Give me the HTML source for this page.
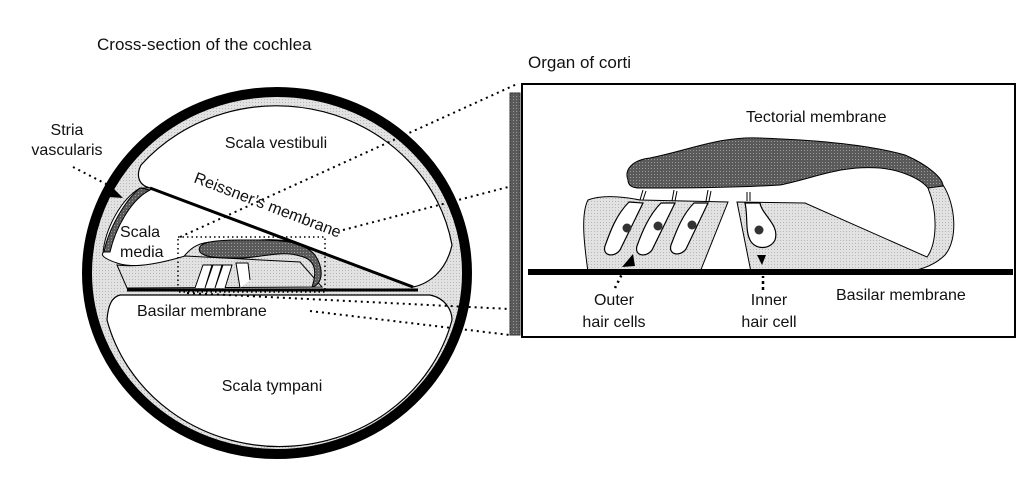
<!DOCTYPE html>
<html><head><meta charset="utf-8"><style>
html,body{margin:0;padding:0;background:#fff;}
svg{display:block;}
text{font-family:"Liberation Sans",Arial,sans-serif;fill:#111;}
</style></head><body>
<svg width="1029" height="482" viewBox="0 0 1029 482">
<defs>
<pattern id="lg" width="3" height="3" patternUnits="userSpaceOnUse"><rect width="3" height="3" fill="#e2e2e2"/><rect width="1" height="1" fill="#b8b8b8"/></pattern>
<pattern id="dg" width="3" height="3" patternUnits="userSpaceOnUse"><rect width="3" height="3" fill="#5a5a5a"/><rect width="1" height="1" fill="#999"/></pattern>
</defs>
<text x="97" y="50" font-size="17">Cross-section of the cochlea</text>
<text x="528" y="68" font-size="17">Organ of corti</text>

<g>
<ellipse cx="277" cy="273" rx="190" ry="181" fill="url(#lg)" stroke="#000" stroke-width="10"/>
<path d="M150,188 C138,185 136,175 141,165 A178,168 0 0 1 452,245 C446,272 428,284 413,287 Z" fill="#fff" stroke="#000" stroke-width="1.2"/>
<path d="M140,188 L150,188 L308,248 C300,240 270,238 250,241 L210,242 C190,244 186,256 180,260 C160,265 130,268 117,263 C108,260 100,256 103,253 C105,230 120,200 140,188 Z" fill="#fff" stroke="#000" stroke-width="1"/>
<path d="M140,188 C125,200 108,230 104,252 L110,252 C115,230 130,200 150,190 Z" fill="url(#dg)" stroke="#000" stroke-width="1"/>
<path d="M120,295 L430,295 C445,298 452,310 452,320 A178,168 0 0 1 107,320 C108,305 112,297 120,295 Z" fill="#fff" stroke="#000" stroke-width="1.2"/>
<path d="M117,265 C140,268 165,262 185,256 L300,262 L322,287 L127,288 Z" fill="url(#lg)" stroke="#000" stroke-width="1"/>
<path d="M200,252 C195,242 215,240 240,240 C270,240 300,238 315,255 C325,270 322,285 312,287 C316,275 318,260 300,256 C280,250 260,258 240,258 C220,258 205,258 200,252 Z" fill="url(#dg)" stroke="#000" stroke-width="1"/>
<path d="M195,288 L203,265 L212,265 L205,288 M205,288 L213,265 L222,265 L215,288 M215,288 L223,265 L232,265 L225,288 M240,288 L236,263 L248,263 L250,280" fill="#fff" stroke="#000" stroke-width="1"/>
<line x1="150" y1="188" x2="413" y2="287" stroke="#000" stroke-width="3"/>
<line x1="127" y1="290" x2="418" y2="290" stroke="#000" stroke-width="3"/>
<rect x="178" y="237" width="147" height="55" fill="none" stroke="#000" stroke-width="1.5" stroke-dasharray="1.5,3"/>
</g>

<g stroke="#000" stroke-width="2" stroke-dasharray="2,4" fill="none">
<line x1="180" y1="237" x2="517" y2="84"/>
<line x1="343" y1="230" x2="512" y2="186"/>
<line x1="187" y1="293" x2="510" y2="309"/>
<line x1="310" y1="311" x2="510" y2="335"/>
<line x1="73" y1="167" x2="112" y2="187"/>
</g>
<path d="M112,187 L123,198 L108,197 Z" fill="#000"/>

<text x="67" y="135" font-size="16" text-anchor="middle">Stria</text>
<text x="67" y="155" font-size="16" text-anchor="middle">vascularis</text>
<text x="276" y="148" font-size="16" text-anchor="middle">Scala vestibuli</text>
<text x="120" y="237" font-size="16">Scala</text>
<text x="120" y="257" font-size="16">media</text>
<text x="193" y="182" font-size="16" transform="rotate(21 193 182)">Reissner’s membrane</text>
<text x="137" y="316" font-size="16">Basilar membrane</text>
<text x="272" y="391" font-size="16" text-anchor="middle">Scala tympani</text>

<g>
<rect x="510" y="93" width="10" height="242" fill="url(#dg)" stroke="#333" stroke-width="1"/>
<rect x="522" y="84" width="493" height="253" fill="#fff" stroke="#000" stroke-width="2"/>
<path d="M588,272 C585,250 580,215 588,200 C600,195 620,196 640,200 L728,202 L700,272 Z" fill="url(#lg)" stroke="#000" stroke-width="1"/>
<path d="M737,202 L805,203 L927,257 C936,245 939,215 928,188 L943,185 C956,205 958,240 945,255 C935,265 920,270 907,272 L751,272 Z" fill="url(#lg)" stroke="#000" stroke-width="1"/>
<path d="M628,180 C624,170 632,160 650,158 C690,150 720,136 760,138 C820,140 870,145 905,155 C928,165 943,178 943,186 L928,188 C920,178 900,170 880,168 C840,165 815,178 780,185 C730,188 680,188 640,188 C632,188 628,185 628,180 Z" fill="url(#dg)" stroke="#000" stroke-width="1"/>
<g fill="#fff" stroke="#000" stroke-width="1.2">
<path d="M629,202 L643,203 L620,250 C614,258 602,256 605,246 C610,232 616,215 629,202 Z"/>
<path d="M661,203 L675,203 L652,250 C646,258 634,256 637,246 C642,232 649,215 661,203 Z"/>
<path d="M694,203 L708,203 L686,249 C680,257 668,255 671,245 C676,232 682,215 694,203 Z"/>
</g>
<path d="M745,203 L760,203 C762,215 780,225 775,240 C770,250 755,250 750,240 C745,230 748,215 745,203 Z" fill="#fff" stroke="#000" stroke-width="1.2"/>
<g fill="#333">
<circle cx="627" cy="228" r="4.5"/><circle cx="658" cy="226" r="4.5"/><circle cx="692" cy="225" r="4.5"/><circle cx="759" cy="230" r="4.5"/>
</g>
<g stroke="#000" stroke-width="1">
<line x1="640" y1="200" x2="643" y2="190"/><line x1="643" y1="200" x2="646" y2="191"/>
<line x1="672" y1="201" x2="674" y2="190"/><line x1="675" y1="201" x2="677" y2="191"/>
<line x1="706" y1="201" x2="708" y2="190"/><line x1="709" y1="201" x2="711" y2="191"/>
<line x1="747" y1="201" x2="747" y2="192"/><line x1="750" y1="201" x2="750" y2="192"/>
</g>
<line x1="528" y1="272" x2="1013" y2="272" stroke="#000" stroke-width="6"/>
<path d="M622,267 L633,254 L635,266 Z" fill="#000"/>
<path d="M762,265 L757,255 L766,255 Z" fill="#000"/>
<line x1="615" y1="288" x2="622" y2="274" stroke="#000" stroke-width="2.5" stroke-dasharray="2,4"/>
<line x1="763" y1="290" x2="763" y2="276" stroke="#000" stroke-width="2.5" stroke-dasharray="3,3"/>
<text x="746" y="122" font-size="16">Tectorial membrane</text>
<text x="614" y="305" font-size="16" text-anchor="middle">Outer</text>
<text x="614" y="327" font-size="16" text-anchor="middle">hair cells</text>
<text x="769" y="305" font-size="16" text-anchor="middle">Inner</text>
<text x="769" y="327" font-size="16" text-anchor="middle">hair cell</text>
<text x="836" y="300" font-size="16">Basilar membrane</text>
</g>
</svg>
</body></html>
